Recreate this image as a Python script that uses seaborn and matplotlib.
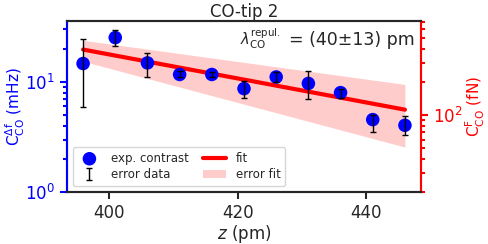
import numpy as np
import matplotlib
matplotlib.use("Agg")
import matplotlib.pyplot as plt
import seaborn as sns

# tip-sample distance (pm)
z_pm = [396, 401, 406, 411, 416, 421, 426, 431, 436, 441, 446]
# contrast (mHz) and error bar ends
contrast = [14.7, 25.3, 14.9, 11.7, 11.7, 8.7, 11.1, 9.7, 8.0, 4.55, 4.04]
err_top = [24.4, 29.9, 18.5, 12.5, 12.3, 10.3, 12.3, 12.5, 8.6, 5.05, 4.95]
err_bot = [5.9, 21.1, 11.2, 11.0, 11.0, 7.1, 9.9, 7.0, 7.2, 3.5, 3.27]

# exponential fit (straight on log axis) and its error band
fit_z = [396, 446]
fit_val = [19.7, 5.6]
band_hi = [23.9, 9.5]
band_lo = [15.4, 2.56]

lam_sym = r"$\lambda_{\mathrm{CO}}^{\mathrm{repul.}}$"
lam_val = "= (40\u00b113) pm"

sns.set_style("ticks")
plt.rcParams["font.family"] = ["DejaVu Sans"]
plt.rcParams["mathtext.fontset"] = "dejavusans"

fig, ax = plt.subplots(figsize=(4.89, 2.44), dpi=100)
fig.subplots_adjust(left=0.137, right=0.861, bottom=0.213, top=0.915)

yerr = [np.array(contrast) - np.array(err_bot), np.array(err_top) - np.array(contrast)]

ax.fill_between(fit_z, band_lo, band_hi, color="red", alpha=0.2, lw=0, label="error fit")
sns.lineplot(x=fit_z, y=fit_val, ax=ax, color="red", lw=3, label="fit")
sns.scatterplot(x=z_pm, y=contrast, ax=ax, color="blue", s=95, edgecolor="none",
                label="exp. contrast", zorder=3)
ax.errorbar(z_pm, contrast, yerr=yerr, fmt="none", ecolor="k", elinewidth=1,
            capsize=2.5, capthick=1, label="error data", zorder=4)

ax.set_yscale("log")
ax.set_ylim(1, 36)
ax.set_xlim(393.5, 448.5)
ax.set_xticks([400, 420, 440])
ax.set_xlabel(r"$z$ (pm)", fontsize=12, labelpad=1)
ax.set_ylabel(r"$\mathrm{C}_{\mathrm{CO}}^{\Delta\mathrm{f}}$ (mHz)", fontsize=11,
              color="blue", labelpad=-1)
ax.set_title("CO-tip 2", fontsize=12, pad=3)
ax.tick_params(axis="both", labelsize=12, width=1.5, length=5)
ax.tick_params(axis="y", which="both", colors="blue")
ax.tick_params(axis="y", which="minor", width=1.5, length=3)

ax2 = ax.twinx()
ax2.set_yscale("log")
ax2.set_ylim(20, 720)
ax2.set_ylabel(r"$\mathrm{C}_{\mathrm{CO}}^{\mathrm{F}}$ (fN)", fontsize=11,
               color="red", labelpad=1)
ax2.tick_params(axis="y", which="both", colors="red", labelsize=12)
ax2.tick_params(axis="y", which="major", width=1.5, length=5)
ax2.tick_params(axis="y", which="minor", width=1.5, length=3)

for a in (ax, ax2):
    a.spines["left"].set_color("blue")
    a.spines["right"].set_color("red")
    for s in a.spines.values():
        s.set_linewidth(1.5)

ax.text(0.983, 0.86, lam_val, transform=ax.transAxes, ha="right", va="baseline",
        fontsize=12.5)
ax.text(0.603, 0.86, lam_sym, transform=ax.transAxes, ha="right", va="baseline",
        fontsize=10.5)

h, l = ax.get_legend_handles_labels()
order = [l.index(k) for k in ["exp. contrast", "error data", "fit", "error fit"]]
ax.legend([h[i] for i in order], [l[i] for i in order], ncol=2, loc="lower left",
          fontsize=8.5, frameon=True, handlelength=2, columnspacing=1.2,
          borderpad=0.4, labelspacing=0.3, bbox_to_anchor=(0.0, 0.0))

fig.savefig("out.png", dpi=100)
